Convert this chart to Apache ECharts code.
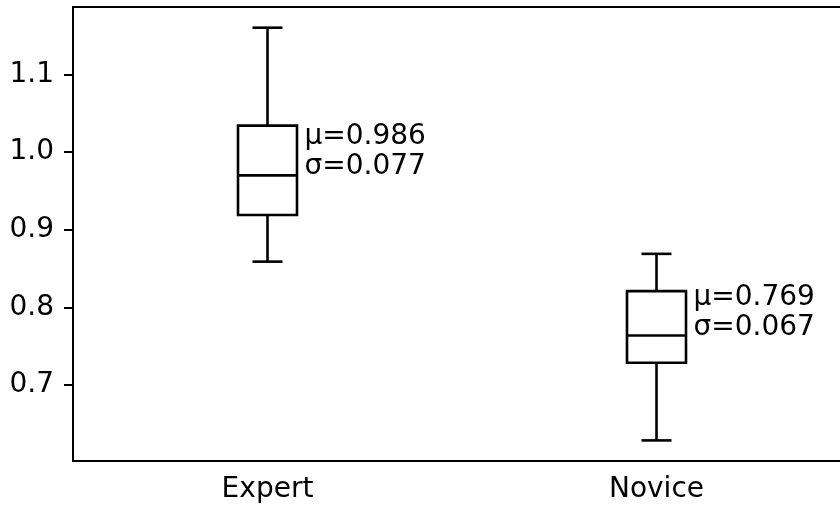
<!DOCTYPE html>
<html>
<head>
<meta charset="utf-8">
<script src="https://cdn.jsdelivr.net/npm/echarts@6/dist/echarts.min.js"></script>
<style>
  html, body { margin: 0; padding: 0; background: #fff; }
  #chart { width: 840px; height: 507px; }
</style>
</head>
<body>
<div id="chart"></div>
<script>
// box statistics
const categories = ['Expert', 'Novice'];
const whiskerLow = [0.859, 0.629];
const q1 = [0.919, 0.729];
const median = [0.970, 0.764];
const q3 = [1.034, 0.821];
const whiskerHigh = [1.160, 0.869];
const means = ['0.986', '0.769'];
const sds = ['0.077', '0.067'];
const labelAt = [1.001, 0.793];
const yTicks = [0.7, 0.8, 0.9, 1.0, 1.1];

const FONT = 'DejaVu Sans';

let boxData = categories.map((c, i) => [i, whiskerLow[i], q1[i], median[i], q3[i], whiskerHigh[i], labelAt[i]]);

let chart = echarts.init(document.getElementById('chart'));
chart.setOption({
  animation: false,
  grid: {
    left: 73,
    top: 7,
    width: 778,
    height: 454,
    containLabel: false,
    outerBoundsMode: 'none',
    show: true,
    borderColor: '#000',
    borderWidth: 2,
    backgroundColor: 'transparent'
  },
  xAxis: {
    type: 'category',
    data: categories,
    boundaryGap: true,
    axisLine: { lineStyle: { color: '#000', width: 2 } },
    axisTick: { alignWithLabel: true, length: 9, lineStyle: { color: '#000', width: 2 } },
    axisLabel: { color: '#000', fontFamily: FONT, fontSize: 28, margin: 15 },
    splitLine: { show: false }
  },
  yAxis: {
    type: 'value',
    min: 0.6025,
    max: 1.1866,
    axisLine: { show: true, lineStyle: { color: '#000', width: 2 } },
    axisTick: { show: true, length: 9, customValues: yTicks, lineStyle: { color: '#000', width: 2 } },
    axisLabel: {
      color: '#000', fontFamily: FONT, fontSize: 28, margin: 19,
      customValues: yTicks,
      formatter: v => v.toFixed(1)
    },
    splitLine: { show: false }
  },
  series: [{
    type: 'custom',
    data: boxData,
    encode: { x: 0, y: [1, 2, 3, 4, 5] },
    renderItem: function (params, api) {
      let i = api.value(0);
      let lo = api.coord([i, api.value(1)]);
      let b1 = api.coord([i, api.value(2)]);
      let md = api.coord([i, api.value(3)]);
      let b3 = api.coord([i, api.value(4)]);
      let hi = api.coord([i, api.value(5)]);
      let lb = api.coord([i, api.value(6)]);
      let x = lo[0];
      let bw = 59, cw = 30;
      let st = { stroke: '#000', lineWidth: 2.6, fill: null };
      return {
        type: 'group',
        children: [
          { type: 'rect', shape: { x: x - bw / 2, y: b3[1], width: bw, height: b1[1] - b3[1] }, style: { stroke: '#000', lineWidth: 2.6, fill: '#fff' } },
          { type: 'line', shape: { x1: x - bw / 2, y1: md[1], x2: x + bw / 2, y2: md[1] }, style: st },
          { type: 'line', shape: { x1: x, y1: b3[1], x2: x, y2: hi[1] }, style: st },
          { type: 'line', shape: { x1: x, y1: b1[1], x2: x, y2: lo[1] }, style: st },
          { type: 'line', shape: { x1: x - cw / 2, y1: hi[1], x2: x + cw / 2, y2: hi[1] }, style: st },
          { type: 'line', shape: { x1: x - cw / 2, y1: lo[1], x2: x + cw / 2, y2: lo[1] }, style: st },
          {
            type: 'text',
            x: x + 37,
            y: lb[1],
            style: {
              text: 'μ=' + means[i] + '\nσ=' + sds[i],
              fill: '#000',
              font: '28px "DejaVu Sans"',
              lineHeight: 30,
              align: 'left',
              verticalAlign: 'middle'
            }
          }
        ]
      };
    }
  }]
});
</script>
</body>
</html>
